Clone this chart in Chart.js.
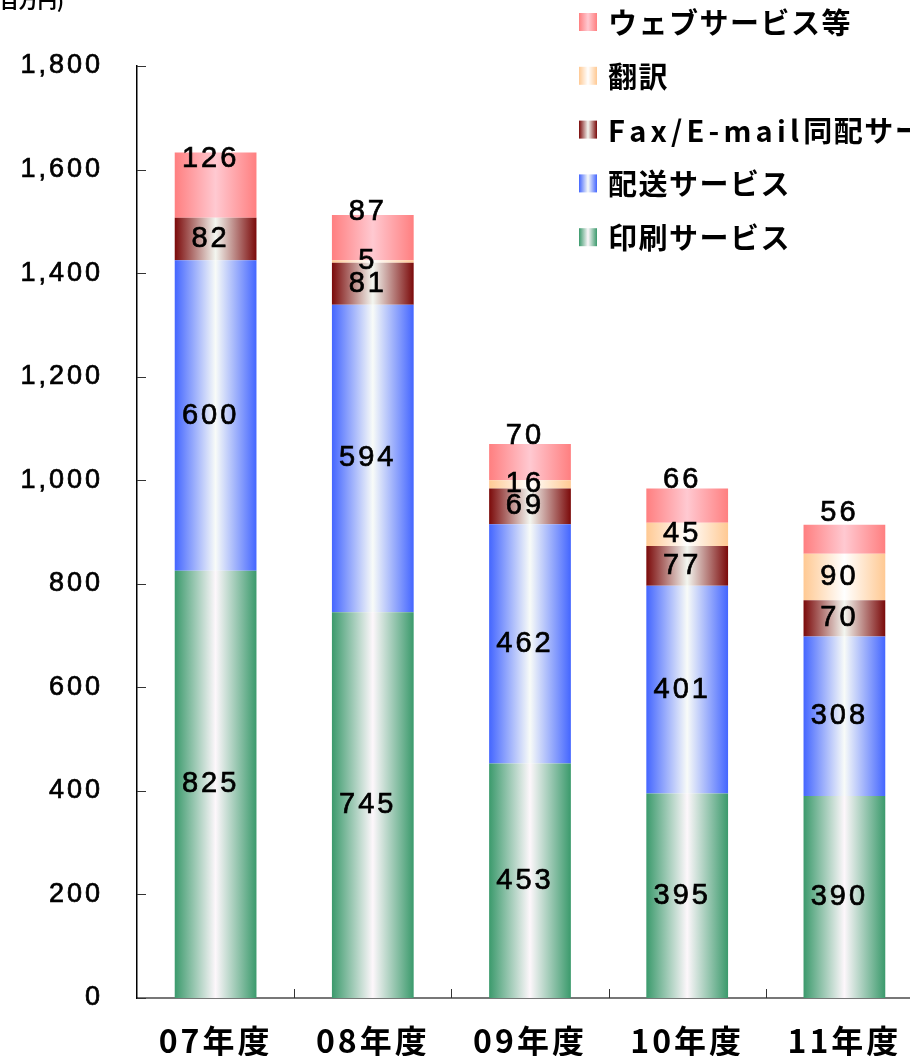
<!DOCTYPE html>
<html>
<head>
<meta charset="utf-8">
<script src="https://cdn.jsdelivr.net/npm/chart.js@4.4.0/dist/chart.umd.min.js"></script>
<style>
  html, body { margin: 0; padding: 0; background: #fff; overflow: hidden; }
  #wrap { width: 910px; height: 1056px; overflow: hidden; }
  #box { width: 923px; height: 1056px; position: relative; }
</style>
</head>
<body>
<div id="wrap"><div id="box"><canvas id="chart"></canvas></div></div>
<script>
// 売上高の推移（百万円）
var years = ["07年度", "08年度", "09年度", "10年度", "11年度"];
var printing = [825, 745, 453, 395, 390];
var delivery = [600, 594, 462, 401, 308];
var faxMail = [82, 81, 69, 77, 70];
var translation = [0, 5, 16, 45, 90];
var webEtc = [126, 87, 70, 66, 56];
var yMin = 0, yMax = 1800, yStep = 200;

var BAR_PCT = 0.52;
var palette = {
  printing: ["#3b9a6c", "#fdf7fb"],
  delivery: ["#4466ff", "#f8fbf8"],
  faxMail: ["#7b0a0a", "#f3f6f0"],
  translation: ["#ffc993", "#ffffff"],
  webEtc: ["#ff7f80", "#ffc9d1"]
};

// horizontal edge-to-centre shading for each bar
function barGradient(shade) {
  return function (c) {
    var chart = c.chart;
    var area = chart.chartArea;
    if (!area || c.dataIndex === undefined) return shade[0];
    var cx = chart.scales.x.getPixelForValue(c.dataIndex);
    var half = (area.width / years.length) * BAR_PCT / 2;
    var g = chart.ctx.createLinearGradient(cx - half, 0, cx + half, 0);
    g.addColorStop(0, shade[0]);
    g.addColorStop(0.5, shade[1]);
    g.addColorStop(1, shade[0]);
    return g;
  };
}

function series(label, data, shade) {
  return {
    label: label,
    data: data,
    shade: shade,
    backgroundColor: barGradient(shade),
    borderWidth: 0,
    barPercentage: BAR_PCT,
    categoryPercentage: 1
  };
}

var spacing = {
  id: "spacing",
  beforeDraw: function (chart) { chart.ctx.letterSpacing = "3px"; },
  afterDraw: function (chart) { chart.ctx.letterSpacing = "0px"; }
};

var axisMarks = {
  id: "axisMarks",
  afterDatasetsDraw: function (chart) {
    var ctx = chart.ctx, a = chart.chartArea;
    var y = chart.scales.y;
    ctx.save();
    ctx.strokeStyle = "#333";
    ctx.lineWidth = 1;
    for (var v = yMin; v <= yMax; v += yStep) {
      var py = Math.round(y.getPixelForValue(v)) + 0.5;
      ctx.beginPath();
      ctx.moveTo(a.left, py);
      ctx.lineTo(a.left + 9, py);
      ctx.stroke();
    }
    var w = a.width / years.length;
    for (var i = 1; i < years.length; i++) {
      var px = Math.round(a.left + i * w) + 0.5;
      ctx.beginPath();
      ctx.moveTo(px, a.bottom);
      ctx.lineTo(px, a.bottom - 9);
      ctx.stroke();
    }
    ctx.restore();
  }
};

var valueLabels = {
  id: "valueLabels",
  afterDatasetsDraw: function (chart) {
    var ctx = chart.ctx;
    var last = chart.data.datasets.length - 1;
    ctx.save();
    ctx.font = '29px "Liberation Sans", Arial, sans-serif';
    ctx.letterSpacing = "3px";
    ctx.textAlign = "center";
    ctx.textBaseline = "middle";
    ctx.fillStyle = "#000";
    ctx.strokeStyle = "#000";
    ctx.lineWidth = 0.7;
    chart.data.datasets.forEach(function (ds, di) {
      chart.getDatasetMeta(di).data.forEach(function (bar, i) {
        var v = ds.data[i];
        if (!v) return;
        var y = (bar.y + bar.base) / 2 + (di === last ? -26 : 0);
        ctx.fillText(String(v), bar.x - 5, y);
        ctx.strokeText(String(v), bar.x - 5, y);
      });
    });
    ctx.restore();
  }
};

// latin letters are set wider than kana/kanji in the legend
function spacedText(ctx, text, x, y) {
  for (var k = 0; k < text.length; k++) {
    var ch = text[k];
    ctx.letterSpacing = ch.charCodeAt(0) < 128 ? "4.2px" : "1.5px";
    ctx.fillText(ch, x, y);
    x += ctx.measureText(ch).width;
  }
}

var sideLegend = {
  id: "sideLegend",
  afterDraw: function (chart) {
    var ctx = chart.ctx;
    var sets = chart.data.datasets.slice().reverse();
    ctx.save();
    ctx.textBaseline = "middle";
    ctx.textAlign = "left";
    sets.forEach(function (ds, i) {
      var y = 22 + i * 53.8;
      var g = ctx.createLinearGradient(579, 0, 597, 0);
      g.addColorStop(0, ds.shade[0]);
      g.addColorStop(0.5, ds.shade[1]);
      g.addColorStop(1, ds.shade[0]);
      ctx.fillStyle = g;
      ctx.fillRect(579, y - 9, 18, 18);
      ctx.fillStyle = "#000";
      ctx.font = 'bold 29px "Noto Sans CJK JP", sans-serif';
      spacedText(ctx, ds.label, 608, y + 1);
    });
    // unit caption, clipped by the top edge
    ctx.font = 'bold 19px "Noto Sans CJK JP", sans-serif';
    ctx.letterSpacing = "0px";
    ctx.textAlign = "right";
    ctx.textBaseline = "alphabetic";
    ctx.fillText("(百万円)", 64, 8);
    ctx.restore();
  }
};

new Chart(document.getElementById("chart"), {
  type: "bar",
  data: {
    labels: years,
    datasets: [
      series("印刷サービス", printing, palette.printing),
      series("配送サービス", delivery, palette.delivery),
      series("Fax/E-mail同配サービス", faxMail, palette.faxMail),
      series("翻訳", translation, palette.translation),
      series("ウェブサービス等", webEtc, palette.webEtc)
    ]
  },
  options: {
    responsive: true,
    maintainAspectRatio: false,
    animation: false,
    locale: "en-US",
    layout: { padding: { top: 66, right: 0, bottom: 0, left: 0 } },
    plugins: {
      legend: { display: false },
      tooltip: { enabled: false }
    },
    scales: {
      x: {
        stacked: true,
        grid: { display: false, drawTicks: false },
        border: { display: true, color: "#777", width: 2 },
        ticks: {
          color: "#000",
          padding: 24,
          font: { family: '"Noto Sans CJK JP", sans-serif', size: 32, weight: "bold" }
        },
        afterFit: function (s) { s.height = 58; }
      },
      y: {
        stacked: true,
        min: yMin,
        max: yMax,
        grid: { display: false, drawTicks: false },
        border: { display: true, color: "#000", width: 1.5 },
        ticks: {
          stepSize: yStep,
          color: "#000",
          padding: 34,
          textStrokeColor: "#000",
          textStrokeWidth: 0.7,
          font: { family: '"Liberation Sans", Arial, sans-serif', size: 27 }
        },
        afterFit: function (s) { s.width = 137; }
      }
    }
  },
  plugins: [spacing, axisMarks, valueLabels, sideLegend]
});
</script>
</body>
</html>
